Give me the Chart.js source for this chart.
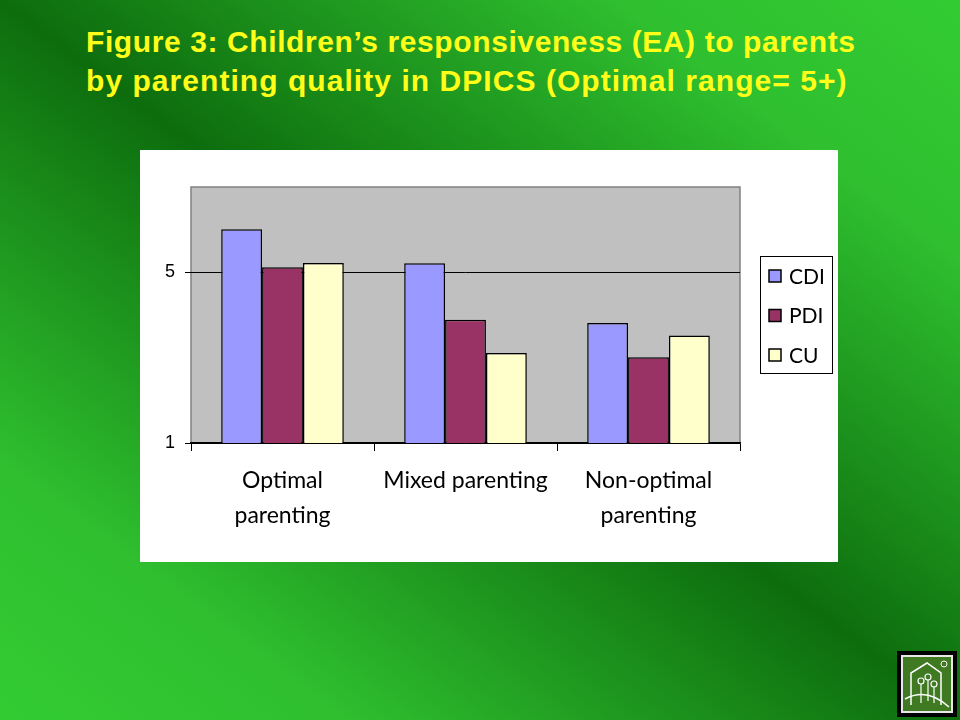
<!DOCTYPE html>
<html>
<head>
<meta charset="utf-8">
<script src="https://cdn.jsdelivr.net/npm/chart.js@4.4.1/dist/chart.umd.min.js"></script>
<style>
  html, body { margin: 0; padding: 0; }
  body {
    width: 960px; height: 720px; position: relative; overflow: hidden;
    background: linear-gradient(to top right, #33cc33 0%, #2fbf2f 18%, #0d6d0d 50%, #2fbf2f 82%, #33cc33 100%);
  }
  #title {
    position: absolute; left: 86px; top: 22px;
    font-family: "Liberation Sans", Arial, sans-serif; font-weight: bold;
    font-size: 30px; line-height: 39px; color: #ffff1a; white-space: nowrap;
  }
  #title .l1 { letter-spacing: 0.6px; }
  #title .l2 { letter-spacing: 1.05px; }
  #box {
    position: absolute; left: 140px; top: 150px; width: 698px; height: 412px;
    background: #fff;
  }
  #logo { position: absolute; left: 897px; top: 651px; }
</style>
</head>
<body>
<div id="title"><div class="l1">Figure 3: Children’s responsiveness (EA) to parents</div><div class="l2">by parenting quality in DPICS (Optimal range= 5+)</div></div>
<div id="box"><canvas id="chart" width="698" height="412"></canvas></div>
<svg id="logo" width="60" height="66" viewBox="0 0 60 66">
  <rect x="0" y="0" width="60" height="66" fill="#000"/>
  <rect x="4" y="4" width="52" height="58" fill="#e8e8e8"/>
  <rect x="6" y="6" width="48" height="54" fill="#3f7a22"/>
  <path d="M14 54 L14 22 L30 12 L44 22 L44 54" fill="none" stroke="#fff" stroke-width="1.5"/>
  <path d="M8 48 Q30 36 52 56" fill="none" stroke="#fff" stroke-width="1.5"/>
  <circle cx="24" cy="30" r="3" fill="none" stroke="#fff" stroke-width="1.2"/>
  <circle cx="31" cy="26" r="3" fill="none" stroke="#fff" stroke-width="1.2"/>
  <circle cx="37" cy="33" r="3" fill="none" stroke="#fff" stroke-width="1.2"/>
  <path d="M24 33 V52 M31 29 V50 M37 36 V52" stroke="#fff" stroke-width="1.2"/>
  <circle cx="47" cy="13" r="3" fill="none" stroke="#fff" stroke-width="1"/>
</svg>
<script>
const categories = [['Optimal', 'parenting'], 'Mixed parenting', ['Non-optimal', 'parenting']];
const seriesNames = ['CDI', 'PDI', 'CU'];
const cdiValues = [6.01, 5.21, 3.81];
const pdiValues = [5.12, 3.89, 3.01];
const cuValues = [5.22, 3.11, 3.52];
const yTicks = [1, 5];
const colors = ['#9999ff', '#993366', '#ffffcc'];

const labelFont = { family: 'Lato, "Open Sans", sans-serif', size: 23, lineHeight: 35 / 23 };

// grey plot area with border
const plotBg = {
  id: 'plotBg',
  beforeDraw(chart) {
    const a = chart.chartArea, ctx = chart.ctx;
    ctx.save();
    ctx.fillStyle = '#c0c0c0';
    ctx.fillRect(a.left, a.top, a.right - a.left, a.bottom - a.top);
    ctx.strokeStyle = '#808080';
    ctx.lineWidth = 1.5;
    ctx.strokeRect(a.left, a.top, a.right - a.left, a.bottom - a.top);
    ctx.restore();
  }
};

// boxed legend like the original
const boxLegend = {
  id: 'boxLegend',
  afterDraw(chart) {
    const ctx = chart.ctx;
    const left = 620, top = 106, w = 72, h = 117;
    ctx.save();
    ctx.fillStyle = '#fff';
    ctx.fillRect(left, top, w, h);
    ctx.strokeStyle = '#000';
    ctx.lineWidth = 1;
    ctx.strokeRect(left + 0.5, top + 0.5, w, h);
    ctx.font = '21px Lato, "Open Sans", sans-serif';
    ctx.textBaseline = 'middle';
    chart.data.datasets.forEach((ds, i) => {
      const cy = 126 + i * 39.5;
      ctx.fillStyle = ds.backgroundColor;
      ctx.fillRect(629, cy - 6, 12, 12);
      ctx.lineWidth = 1.5;
      ctx.strokeRect(629, cy - 6, 12, 12);
      ctx.fillStyle = '#000';
      ctx.fillText(ds.label, 649, cy + 1);
    });
    ctx.restore();
  }
};

new Chart(document.getElementById('chart'), {
  type: 'bar',
  data: {
    labels: categories,
    datasets: [
      { label: seriesNames[0], data: cdiValues, backgroundColor: colors[0] },
      { label: seriesNames[1], data: pdiValues, backgroundColor: colors[1] },
      { label: seriesNames[2], data: cuValues, backgroundColor: colors[2] }
    ].map(d => Object.assign(d, { borderColor: '#000', borderWidth: 1.5, categoryPercentage: 0.67, barPercentage: 1 }))
  },
  options: {
    responsive: false,
    animation: false,
    layout: { padding: { top: 37, right: 98, left: 0, bottom: 0 } },
    plugins: { legend: { display: false }, tooltip: { enabled: false } },
    scales: {
      x: {
        grid: { offset: true, drawOnChartArea: false, tickLength: 8, color: '#000', lineWidth: 1 },
        border: { color: '#000', width: 1.5 },
        ticks: { color: '#000', font: labelFont, padding: 12, maxRotation: 0 },
        afterFit(scale) { scale.height = 119; }
      },
      y: {
        min: 1, max: 7,
        afterBuildTicks(axis) { axis.ticks = yTicks.map(v => ({ value: v })); },
        grid: { color: '#000', lineWidth: 1, tickLength: 6 },
        border: { display: false },
        ticks: { color: '#000', font: { family: '"Liberation Sans", Arial, sans-serif', size: 18 }, padding: 10 },
        afterFit(scale) { scale.width = 51; }
      }
    }
  },
  plugins: [plotBg, boxLegend]
});
</script>
</body>
</html>
